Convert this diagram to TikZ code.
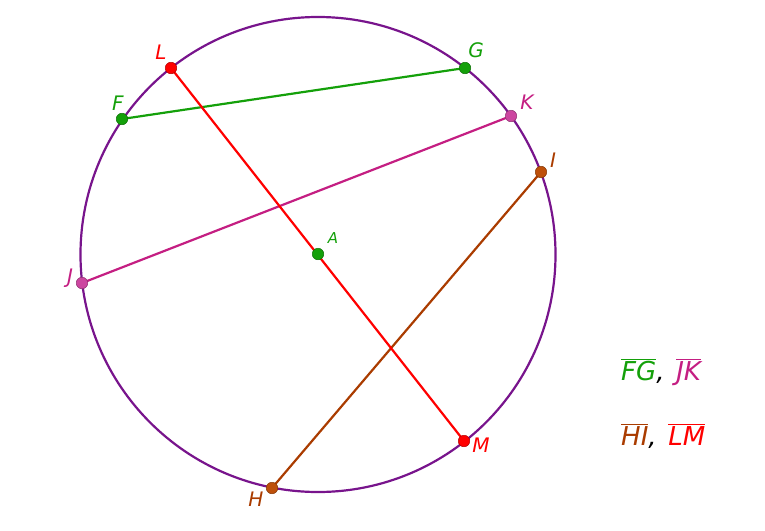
\documentclass[tikz,border=0pt]{standalone}
\usepackage{fontspec}
\setmainfont{DejaVu Sans}
\newcommand\ovl[1]{$\overline{\mbox{#1}}$}
\definecolor{cgreen}{RGB}{20,160,10}
\definecolor{cmag}{RGB}{196,30,130}
\definecolor{cmagpt}{RGB}{204,70,160}
\definecolor{cbrown}{RGB}{170,60,0}
\definecolor{cbrownpt}{RGB}{190,80,10}
\definecolor{cred}{RGB}{255,0,0}
\definecolor{cpurple}{RGB}{120,20,140}
\tikzset{
  pt/.style={circle,fill=#1,draw=#1!70!black,line width=0.5pt,minimum size=11.5pt,inner sep=0pt},
  lab/.style={text=#1,font=\fontsize{20}{20}\selectfont\itshape,inner sep=0pt},
  seg/.style={draw=#1,line width=2.2pt},
  legend/.style={font=\fontsize{26}{26}\selectfont\itshape,anchor=base west,inner sep=0pt},
}
\begin{document}
\begin{tikzpicture}[x=1pt,y=-1pt]
\useasboundingbox (0,0) rectangle (765,530);
\draw[cpurple,line width=2.2pt] (318,254.5) circle (237.5);
\coordinate (L) at (171,68);
\coordinate (G) at (465,68);
\coordinate (F) at (122,119);
\coordinate (K) at (511,116);
\coordinate (I) at (541,172);
\coordinate (J) at (82,283);
\coordinate (M) at (464,441);
\coordinate (H) at (272,488);
\coordinate (A) at (318,254);
\draw[seg=cgreen] (F) -- (G);
\draw[seg=cmag] (J) -- (K);
\draw[seg=cbrown] (H) -- (I);
\draw[seg=cred] (L) -- (M);
\node[pt=cred] (pL) at (L) {};
\node[pt=cgreen] (pG) at (G) {};
\node[pt=cgreen] (pF) at (F) {};
\node[pt=cmagpt] (pK) at (K) {};
\node[pt=cbrownpt] (pI) at (I) {};
\node[pt=cmagpt] (pJ) at (J) {};
\node[pt=cred] (pM) at (M) {};
\node[pt=cbrownpt] (pH) at (H) {};
\node[pt=cgreen] (pA) at (A) {};
\node[lab=cred] (tL) at (161,52) {L};
\node[lab=cgreen] (tG) at (476,50) {G};
\node[lab=cgreen] (tF) at (118,103) {F};
\node[lab=cmag] (tK) at (527,102) {K};
\node[lab=cbrown] (tI) at (553,160) {I};
\node[lab=cgreen,font=\fontsize{15}{15}\selectfont\itshape] (tA) at (333,238) {A};
\node[lab=cmag] (tJ) at (70,278) {J};
\node[lab=cred] (tM) at (481,445) {M};
\node[lab=cbrown] (tH) at (256,499) {H};
\node[legend] (leg1) at (621,380)
  {\textcolor{cgreen}{\ovl{FG}},\hspace{0.45em}\textcolor{cmag}{\ovl{JK}}};
\node[legend] (leg2) at (621,445)
  {\textcolor{cbrown}{\ovl{HI}},\hspace{0.45em}\textcolor{cred}{\ovl{LM}}};
\end{tikzpicture}
\end{document}
